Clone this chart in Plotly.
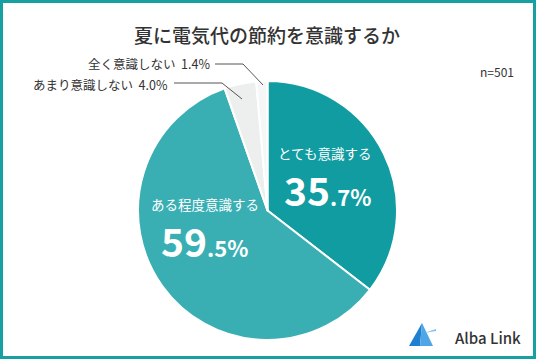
import plotly.graph_objects as go

W, H = 536, 359

categories = ["とても意識する", "ある程度意識する", "あまり意識しない", "全く意識しない"]
values = [35.7, 59.5, 4.0, 1.4]
colors = ["#119CA1", "#3AAFB3", "#EDEFEF", "#F5F6F6"]
title_text = "夏に電気代の節約を意識するか"
n_text = "n=501"

FONT = "Noto Sans CJK JP"

def px(x, y):
    return x / W, 1 - y / H

cx, cy, r = 267.5, 210.5, 129.5

fig = go.Figure(go.Pie(
    labels=categories, values=values, sort=False, direction="clockwise",
    rotation=0, marker=dict(colors=colors, line=dict(color="white", width=2)),
    textinfo="none", hoverinfo="label+percent", showlegend=False,
    domain=dict(x=[(cx - r) / W, (cx + r) / W], y=[1 - (cy + r) / H, 1 - (cy - r) / H]),
))

ann = []
def text(x, y, s, size, color="#333333", anchor="center", weight=400):
    ax, ay = px(x, y)
    ann.append(dict(x=ax, y=ay, xref="paper", yref="paper", text=s, showarrow=False,
                    xanchor=anchor, yanchor="middle",
                    font=dict(family=FONT, size=size, color=color, weight=weight)))

text(267, 34, title_text, 19, weight=500)
text(516, 72, n_text, 12, anchor="right")
text(212, 64, f"{categories[3]}  {values[3]}%", 12.5, anchor="right")
text(170, 84, f"{categories[2]}  {values[2]}%", 12.5, anchor="right")
text(324, 153, categories[0], 13.5, color="white")
text(205, 204, categories[1], 13.5, color="white")

def pct(v):
    s = f"{v:.1f}"
    a, b = s.split(".")
    return f"<span style='font-size:39px'>{a}</span><span style='font-size:22px'>.{b}%</span>"

text(327, 189, pct(values[0]), 39, color="white", weight=700)
text(204, 240, pct(values[1]), 39, color="white", weight=700)

text(523, 337, "Alba Link", 15, color="#333333", anchor="right", weight=500)

shapes = []
def line_path(pts, color="#555555", width=1):
    d = ""
    for i, (x, y) in enumerate(pts):
        a, b = px(x, y)
        d += ("M" if i == 0 else "L") + f"{a},{b} "
    shapes.append(dict(type="path", path=d, xref="paper", yref="paper",
                       line=dict(color=color, width=width)))

line_path([(215, 64), (243, 64), (263, 85)])
line_path([(174, 83), (222, 83), (242, 99)])

def poly(pts, color):
    d = ""
    for i, (x, y) in enumerate(pts):
        a, b = px(x, y)
        d += ("M" if i == 0 else "L") + f"{a},{b} "
    d += "Z"
    shapes.append(dict(type="path", path=d, xref="paper", yref="paper",
                       fillcolor=color, line=dict(width=0)))

# logo icon
poly([(422, 323), (409, 346), (420, 346)], "#1F7FD0")
poly([(422, 323), (420, 346), (433, 346)], "#4FA6E6")
poly([(424, 333), (436, 329), (436, 331)], "#7EC1EE")

# border
x0, y0 = px(1.5, 1.5)
x1, y1 = px(534.5, 357.5)
shapes.append(dict(type="rect", xref="paper", yref="paper", x0=x0, y0=y1, x1=x1, y1=y0,
                   line=dict(color="#17A0A2", width=3)))

fig.update_layout(width=W, height=H, margin=dict(l=0, r=0, t=0, b=0),
                  paper_bgcolor="white", plot_bgcolor="white",
                  annotations=ann, shapes=shapes)

fig.write_html("out.html", config={"displayModeBar": False},
               post_script="document.body.style.margin='0';document.body.style.overflow='hidden';")
